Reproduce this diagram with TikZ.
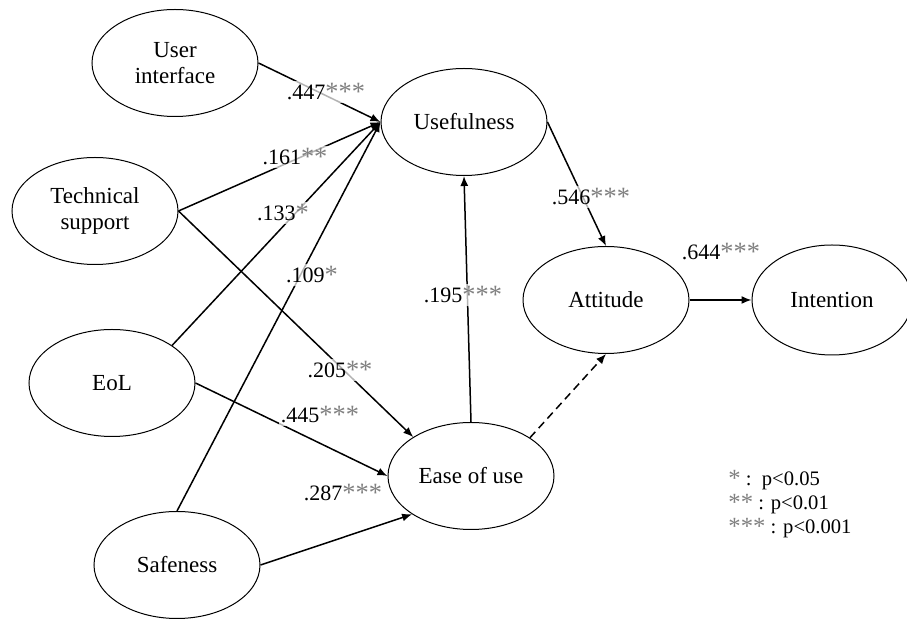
\documentclass[tikz,border=0pt]{standalone}
\usepackage{fontspec}
\setmainfont{Liberation Serif}
\usetikzlibrary{shapes.geometric,arrows.meta}
\tikzset{>={Latex[length=5pt,width=4pt]}, % filled triangle arrow heads
construct/.style={ellipse, draw, line width=0.5pt, minimum width=83pt, minimum height=53.5pt, inner sep=0pt, align=center, font=\fontsize{11.5}{13}\selectfont}, % latent constructs
path/.style={->, line width=0.75pt}, % structural paths
coef/.style={fill=white, fill opacity=0.7, text opacity=1, inner sep=1pt, font=\fontsize{11}{13}\selectfont}, % path coefficients
}
\newcommand{\signif}[1]{{\color{gray}\raisebox{-0.15ex}{\scalebox{1.2}{#1}}}}

\begin{document}
\begin{tikzpicture}[x=0.5pt,y=-0.5pt]
\useasboundingbox (0,0) rectangle (907,619);
\node[construct] (ui) at (175,63) {User\\interface};
\node[construct] (ts) at (95,211) {Technical\\support};
\node[construct] (eol) at (112,383) {EoL};
\node[construct] (safe) at (177,565) {Safeness};
\node[construct] (use) at (464,122) {Usefulness};
\node[construct] (ease) at (471,476) {Ease of use};
\node[construct] (att) at (606,300) {Attitude};
\node[construct, minimum width=80pt, minimum height=55pt] (int) at (832,300) {Intention};
\draw (ui.east) edge[path] (use.west)
(ts.east) edge[path] (use.west)
(eol.32) edge[path] (use.west)
(safe.north) edge[path] (use.west)
(ts.east) edge[path] (ease.146)
(eol.east) edge[path] (ease.west)
(safe.east) edge[path] (ease.213)
(ease.north) edge[path] (use.south)
(use.east) edge[path] (att.north)
(att.east) edge[path] (int.west)
(ease.33) edge[path, dash pattern=on 4pt off 2.5pt] (att.south);
\node[coef] (c1) at (326,92) {.447\signif{***}};
\node[coef] (c2) at (295,157) {.161\signif{**}};
\node[coef] (c3) at (283,213) {.133\signif{*}};
\node[coef] (c4) at (312,275) {.109\signif{*}};
\node[coef] (c5) at (340,370) {.205\signif{**}};
\node[coef] (c6) at (320,415) {.445\signif{***}};
\node[coef] (c7) at (343,493) {.287\signif{***}};
\node[coef] (c8) at (463,295) {.195\signif{***}};
\node[coef] (c9) at (591,197) {.546\signif{***}};
\node[coef] (c10) at (721,252) {.644\signif{***}};
\node[align=left, anchor=north west, inner sep=0pt, font=\fontsize{10.3}{12}\selectfont] (legend) at (728,470) {\signif{*} :~~p<0.05\\ \signif{**} : p<0.01\\ \signif{***} : p<0.001};
\end{tikzpicture}
\end{document}
